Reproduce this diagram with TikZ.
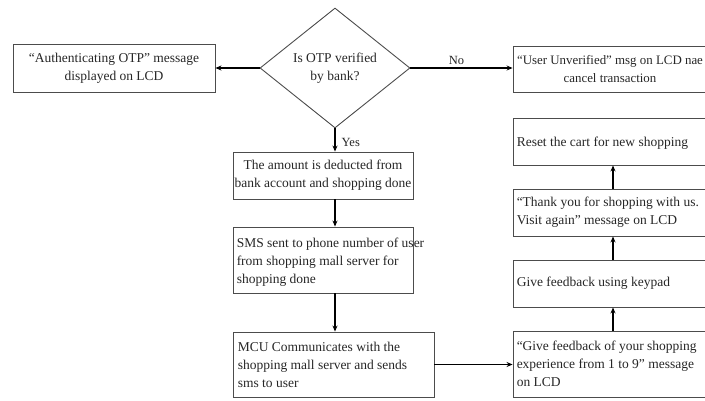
\documentclass[tikz,border=0pt]{standalone}
\usepackage{fontspec}
\setmainfont{Liberation Serif}
\usetikzlibrary{shapes.geometric,arrows.meta}
\begin{document}
\begin{tikzpicture}[x=1pt,y=-1pt,
  box/.style={draw=black!70, line width=0.9pt, inner sep=0pt},
  decision/.style={draw=black!70, line width=0.9pt, diamond, aspect=1.25,
    minimum width=150pt, minimum height=120pt, inner sep=0pt},
  txt/.style={font=\fontsize{13.5}{18}\selectfont, text=black!85, inner sep=0pt},
  flow/.style={-{Stealth[length=6pt,width=5pt]}, line width=1.4pt},
  lbl/.style={font=\fontsize{12.5}{14}\selectfont, text=black!85, inner sep=1pt}]
\useasboundingbox (0,0) rectangle (705,401);
\clip (0,0) rectangle (705,401);

% decision and its two outcomes
\node[decision] (otp) at (335,68) {};
\node[txt, align=center] (otpt) at (otp) {Is OTP verified\\by bank?};

\node[box, minimum width=202pt, minimum height=48pt] (auth) at (114,68) {};
\node[txt, align=center] (autht) at (auth) {“Authenticating OTP” message\\displayed on LCD};

\node[box, minimum width=200pt, minimum height=46pt] (unver) at (613,69) {};
\node[txt, font=\fontsize{12.9}{18}\selectfont, align=center] (unvert) at ([xshift=-3pt]unver.center)
  {“User Unverified” msg on LCD nae\\cancel transaction};

% left column
\node[box, minimum width=180pt, minimum height=47pt] (amt) at (323,175.5) {};
\node[txt, align=center] (amtt) at (amt) {The amount is deducted from\\bank account and shopping done};

\node[box, minimum width=180pt, minimum height=66pt] (sms) at (323,260) {};
\node[txt, align=left, anchor=west] (smst) at ([xshift=4pt,yshift=-2pt]sms.west)
  {SMS sent to phone number of user\\from shopping mall server for\\shopping done};

\node[box, minimum width=201pt, minimum height=65pt] (mcu) at (333.5,364.5) {};
\node[txt, align=left, anchor=west] (mcut) at ([xshift=5pt]mcu.west)
  {MCU Communicates with the\\shopping mall server and sends\\sms to user};

% right column
\node[box, minimum width=200pt, minimum height=66pt] (fb9) at (613,364) {};
\node[txt, align=left, anchor=west] (fb9t) at ([xshift=4pt]fb9.west)
  {“Give feedback of your shopping\\experience from 1 to 9” message\\on LCD};

\node[box, minimum width=200pt, minimum height=47pt] (keypad) at (613,283.5) {};
\node[txt, align=left, anchor=west] (keypadt) at ([xshift=4pt]keypad.west) {Give feedback using keypad};

\node[box, minimum width=200pt, minimum height=47pt] (thank) at (613,212.5) {};
\node[txt, align=left, anchor=west] (thankt) at ([xshift=4pt]thank.west)
  {“Thank you for shopping with us.\\Visit again” message on LCD};

\node[box, minimum width=200pt, minimum height=47pt] (reset) at (613,141.5) {};
\node[txt, align=left, anchor=west] (resett) at ([xshift=4pt,yshift=-1.5pt]reset.west) {Reset the cart for new shopping};

% connectors
\draw[flow] (otp.west) -- (auth.east);
\draw[flow] (otp.east) -- node[lbl, pos=0.45, above, yshift=2pt] {No} (otp.east -| unver.west);
\draw[flow] (otp.south) -- node[lbl, pos=0.62, right, xshift=5pt] {Yes} (amt.north -| otp.south);
\draw[flow] (amt.south -| otp.south) -- (sms.north -| otp.south);
\draw[flow] (sms.south -| otp.south) -- (mcu.north -| otp.south);
\draw[flow] (mcu.east) -- (mcu.east -| fb9.west);
\draw[flow] (fb9.north) -- (keypad.south);
\draw[flow] (keypad.north) -- (thank.south);
\draw[flow] (thank.north) -- (reset.south);
\end{tikzpicture}
\end{document}
